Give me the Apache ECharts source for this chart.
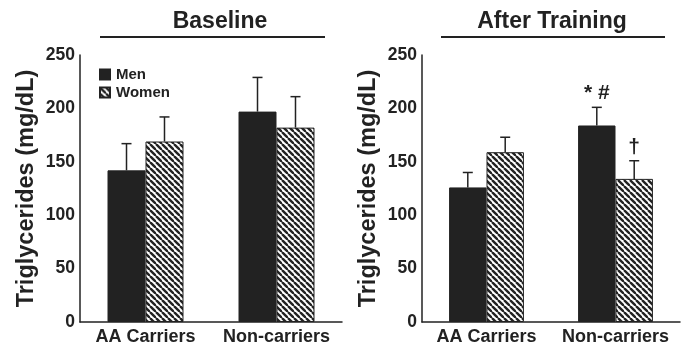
<!DOCTYPE html>
<html>
<head>
<meta charset="utf-8">
<script src="https://cdn.jsdelivr.net/npm/echarts@6/dist/echarts.min.js"></script>
<style>
  html, body { margin: 0; padding: 0; background: #fff; }
  #chart { width: 689px; height: 346px; }
</style>
</head>
<body>
<div id="chart"></div>
<script>
// data
const groups = ["AA Carriers", "Non-carriers"];
const yTicks = [0, 50, 100, 150, 200, 250];

const baseMen = [142, 197];
const baseMenErr = [167, 229];
const baseWomen = [169, 182];
const baseWomenErr = [192, 211];

const trainMen = [126, 184];
const trainMenErr = [140, 201];
const trainWomen = [159, 134];
const trainWomenErr = [173, 151];

const trainMenMarks = ["", "* #"];
const trainWomenMarks = ["", "†"];

const FONT = "Liberation Sans, Arial, Helvetica, sans-serif";
const INK = "#222";
const BAR_FRAC = 0.29;

// diagonal hatch for women
function hatch() {
  const c = document.createElement("canvas");
  c.width = 6; c.height = 6;
  const g = c.getContext("2d");
  g.fillStyle = "#fff"; g.fillRect(0, 0, 6, 6);
  g.strokeStyle = INK; g.lineWidth = 2.4;
  for (const k of [-6, 0, 6]) {
    g.beginPath(); g.moveTo(k, 0); g.lineTo(k + 6, 6); g.stroke();
  }
  return c;
}
const hatchFill = { image: hatch(), repeat: "repeat" };

function errRender(sign, marks) {
  return (params, api) => {
    const i = api.value(0);
    const top = api.coord([i, api.value(2)]);
    const bar = api.coord([i, api.value(1)]);
    const w = api.size([1, 0])[0] * BAR_FRAC;
    const x = top[0] + sign * w / 2;
    const kids = [
      { type: "line", shape: { x1: x, y1: bar[1], x2: x, y2: top[1] }, style: { stroke: INK, lineWidth: 1.5 } },
      { type: "line", shape: { x1: x - 5, y1: top[1], x2: x + 5, y2: top[1] }, style: { stroke: INK, lineWidth: 1.5 } },
    ];
    const m = marks && marks[i];
    if (m) {
      kids.push({ type: "text", style: { text: m, x: x, y: top[1] - 14, textAlign: "center", textVerticalAlign: "middle",
        font: "bold 21px " + FONT, fill: INK } });
    }
    return { type: "group", children: kids };
  };
}

function errData(vals, errs) { return vals.map((v, i) => [i, v, errs[i]]); }

function xAxis(grid) {
  return {
    type: "category", gridIndex: grid, data: groups,
    axisLine: { lineStyle: { color: INK, width: 1.5 } },
    axisTick: { show: false },
    axisLabel: { color: INK, fontFamily: FONT, fontWeight: "bold", fontSize: 18, margin: 6, interval: 0 },
  };
}
function yAxis(grid) {
  return {
    type: "value", gridIndex: grid, min: yTicks[0], max: yTicks[yTicks.length - 1], interval: 50,
    name: "Triglycerides (mg/dL)", nameLocation: "middle", nameGap: 41,
    nameTextStyle: { color: INK, fontFamily: FONT, fontWeight: "bold", fontSize: 23.5 },
    axisLine: { show: true, lineStyle: { color: INK, width: 1.5 } },
    axisTick: { show: false },
    splitLine: { show: false },
    axisLabel: { color: INK, fontFamily: FONT, fontWeight: "bold", fontSize: 17.5, margin: 5 },
  };
}

function bars(name, vals, grid, fill) {
  return {
    name, type: "bar", xAxisIndex: grid, yAxisIndex: grid, data: vals,
    barWidth: (BAR_FRAC * 100) + "%", barGap: "0%",
    itemStyle: { color: fill, borderColor: INK, borderWidth: 1 },
    emphasis: { disabled: true }, z: 2,
  };
}
function errs(vals, errv, grid, sign, marks) {
  return {
    type: "custom", xAxisIndex: grid, yAxisIndex: grid, data: errData(vals, errv),
    renderItem: errRender(sign, marks), z: 1, silent: true,
  };
}

const chart = echarts.init(document.getElementById("chart"), null, { renderer: "canvas" });
chart.setOption({
  animation: false,
  backgroundColor: "#fff",
  grid: [
    { left: 80, right: 347, top: 55, bottom: 24 },
    { left: 422, right: 9, top: 55, bottom: 24 },
  ],
  xAxis: [xAxis(0), xAxis(1)],
  yAxis: [yAxis(0), yAxis(1)],
  legend: {
    data: ["Men", "Women"], orient: "vertical", left: 94, top: 62, icon: "rect",
    itemWidth: 10, itemHeight: 10, itemGap: 3, selectedMode: false,
    textStyle: { color: INK, fontFamily: FONT, fontWeight: "bold", fontSize: 15, padding: [0, 0, 0, 1] },
  },
  graphic: [
    { type: "text", x: 220, y: 22, style: { text: "Baseline", textAlign: "center", textVerticalAlign: "middle", font: "bold 23px " + FONT, fill: INK } },
    { type: "text", x: 552, y: 22, style: { text: "After Training", textAlign: "center", textVerticalAlign: "middle", font: "bold 23px " + FONT, fill: INK } },
    { type: "line", shape: { x1: 100, y1: 37, x2: 325, y2: 37 }, style: { stroke: INK, lineWidth: 2 } },
    { type: "line", shape: { x1: 441, y1: 37, x2: 665, y2: 37 }, style: { stroke: INK, lineWidth: 2 } },
  ],
  series: [
    errs(baseMen, baseMenErr, 0, -1),
    errs(baseWomen, baseWomenErr, 0, 1),
    errs(trainMen, trainMenErr, 1, -1, trainMenMarks),
    errs(trainWomen, trainWomenErr, 1, 1, trainWomenMarks),
    bars("Men", baseMen, 0, INK),
    bars("Women", baseWomen, 0, hatchFill),
    bars("Men", trainMen, 1, INK),
    bars("Women", trainWomen, 1, hatchFill),
  ],
});
</script>
</body>
</html>
